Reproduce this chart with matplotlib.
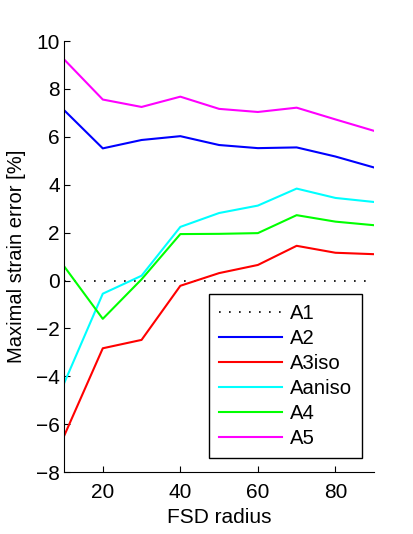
import matplotlib
matplotlib.use("Agg")
import matplotlib.pyplot as plt

plt.rcParams['font.family'] = ['Liberation Sans', 'DejaVu Sans']

radius = [10, 20, 30, 40, 50, 60, 70, 80, 90]
a1 = [0, 0, 0, 0, 0, 0, 0, 0, 0]
a2 = [7.12, 5.52, 5.87, 6.03, 5.66, 5.53, 5.56, 5.18, 4.72]
a3iso = [-6.5, -2.83, -2.48, -0.22, 0.31, 0.65, 1.45, 1.16, 1.1]
aaniso = [-4.3, -0.55, 0.2, 2.24, 2.82, 3.13, 3.84, 3.45, 3.28]
a4 = [0.6, -1.6, 0.05, 1.94, 1.95, 1.98, 2.73, 2.46, 2.31]
a5 = [9.24, 7.56, 7.25, 7.68, 7.17, 7.04, 7.22, 6.73, 6.25]

fig = plt.figure(figsize=(4.13, 5.34), dpi=100)
ax = fig.add_axes([0.155, 0.116, 0.751, 0.807])

ax.plot(radius, a1, color='k', linestyle=(0, (1, 5)), lw=1.2, label='A1')
ax.plot(radius, a2, color=(0, 0, 1), lw=1.5, label='A2')
ax.plot(radius, a3iso, color=(1, 0, 0), lw=1.5, label='A3iso')
ax.plot(radius, aaniso, color=(0, 1, 1), lw=1.5, label='Aaniso')
ax.plot(radius, a4, color=(0, 1, 0), lw=1.5, label='A4')
ax.plot(radius, a5, color=(1, 0, 1), lw=1.5, label='A5')

ax.set_xlim(10, 90)
ax.set_ylim(-8, 10)
ax.set_xticks([20, 40, 60, 80])
ax.set_yticks(range(-8, 11, 2))
ax.set_yticklabels(['\u22128', '\u22126', '\u22124', '\u22122', '0', '2', '4', '6', '8', '10'])
ax.tick_params(direction='in', labelsize=15, length=4)
ax.tick_params(axis='x', pad=8)
ax.tick_params(axis='y', pad=3)
ax.spines['top'].set_visible(False)
ax.spines['right'].set_visible(False)
ax.set_xlabel('FSD radius', fontsize=15, labelpad=4)
ax.set_ylabel('Maximal strain error [%]', fontsize=14.5, labelpad=7)

leg = ax.legend(loc='lower right', bbox_to_anchor=(0.961, 0.032), fontsize=14.6,
                handlelength=3.1, handletextpad=0.4, labelspacing=0.3,
                borderpad=0.5, borderaxespad=0,
                fancybox=False, framealpha=1, edgecolor='k')
leg.get_frame().set_linewidth(1.0)

fig.savefig('out.png', dpi=100)
